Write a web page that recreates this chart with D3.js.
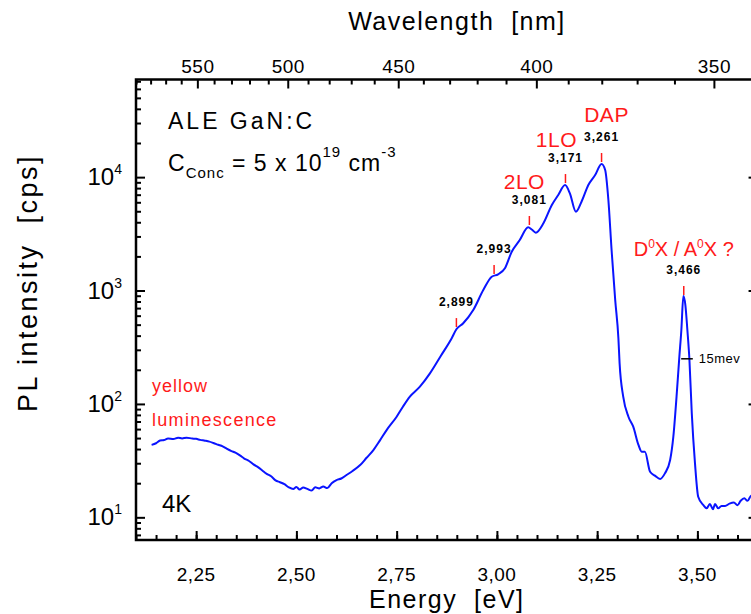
<!DOCTYPE html>
<html>

<head>
    <meta charset="utf-8">
    <style>
        body {
            margin: 0;
            background: #fff;
        }

        svg {
            display: block;
            font-family: "Liberation Sans", Arial, sans-serif;
        }

        .axis .domain {
            display: none;
        }

        .axis .tick line {
            stroke: #000;
            stroke-width: 2;
        }

        .axis .tick text {
            display: none;
        }

        .red {
            fill: #ff1a1a;
        }
    </style>
</head>

<body>
    <svg width="751" height="614"></svg>

    <script src="https://d3js.org/d3.v7.min.js"></script>

    <script>
        // PL spectrum: energy [eV] and intensity [cps]
        let energy = [
            2.139, 2.150, 2.160, 2.170, 2.180, 2.193, 2.205, 2.215, 2.226, 2.240,
            2.250, 2.260, 2.272, 2.283, 2.293, 2.305, 2.316, 2.326, 2.338, 2.348,
            2.359, 2.370, 2.382, 2.393, 2.405, 2.415, 2.426, 2.437, 2.448, 2.459,
            2.470, 2.481, 2.492, 2.500, 2.508, 2.517, 2.527, 2.538, 2.547, 2.557,
            2.567, 2.577, 2.588, 2.600, 2.612, 2.625, 2.640, 2.659, 2.675, 2.692,
            2.708, 2.725, 2.750, 2.766, 2.783, 2.808, 2.833, 2.860, 2.887, 2.899,
            2.916, 2.941, 2.966, 2.987, 3.003, 3.020, 3.037, 3.057, 3.078, 3.087,
            3.097, 3.116, 3.137, 3.153, 3.170, 3.182, 3.197, 3.211, 3.228, 3.245,
            3.261, 3.270, 3.278, 3.286, 3.295, 3.303, 3.306, 3.315, 3.328, 3.340,
            3.353, 3.361, 3.369, 3.382, 3.394, 3.407, 3.419, 3.432, 3.440, 3.448,
            3.455, 3.460, 3.465, 3.470, 3.475, 3.480, 3.486, 3.494, 3.502, 3.515,
            3.523, 3.531, 3.539, 3.544, 3.552, 3.560, 3.569, 3.580, 3.591, 3.600,
            3.608, 3.617, 3.625, 3.634, 3.650
        ]
        let intensity = [
            43.5, 45.0, 47.5, 48.0, 49.5, 49.0, 50.4, 49.6, 50.4, 49.5,
            49.2, 48.2, 47.4, 46.5, 45.2, 43.6, 42.2, 40.3, 38.4, 37.2,
            35.2, 33.0, 31.4, 29.3, 27.6, 25.9, 24.2, 23.0, 21.2, 20.4,
            19.6, 18.4, 17.8, 18.5, 17.6, 18.3, 17.8, 17.2, 18.4, 18.0,
            18.7, 18.1, 20.0, 21.3, 22.0, 23.6, 25.6, 28.9, 33.5, 39.2,
            47.5, 58.8, 77.1, 95, 116, 142, 186, 265, 378, 455,
            514, 673, 1009, 1324, 1390, 1570, 2198, 2788, 3606, 3450,
            3234, 3916, 5678, 6955, 8514, 7194, 4955, 6067, 8514, 10440,
            13060, 11560, 6284, 2275, 826, 378, 228, 116, 77.1, 63.0,
            43.5, 37.9, 37.9, 25.2, 23.3, 21.8, 24.4, 32.0, 51.4, 116,
            261, 449, 893, 745, 449, 250, 82.6, 29.9, 15.2, 12.8,
            12.0, 13.1, 11.8, 13.1, 12.0, 12.6, 12.6, 13.2, 13.5, 12.8,
            14.0, 14.7, 14.0, 15.5, 15.8
        ]

        // axis ticks
        let energyTicks = [2.25, 2.50, 2.75, 3.00, 3.25, 3.50]
        let wavelengthTicks = [550, 500, 450, 400, 350]
        let wavelengthMinor = d3.range(340, 600, 10)
        let intensityTicks = [1e1, 1e2, 1e3, 1e4]
        let intensityExp = ["1", "2", "3", "4"]

        // marked peaks: energy [eV], intensity at the foot of the red mark, label
        let peakEnergy = [2.899, 2.993, 3.081, 3.171, 3.261, 3.466]
        let peakLevel = [476, 1400, 3784, 8870, 13590, 912]
        let peakText = ["2,899", "2,993", "3,081", "3,171", "3,261", "3,466"]

        let svg = d3.select("svg")
        let hc = 1239.84

        let margin = { top: 79.5, bottom: 540, left: 136 }

        let x = d3.scaleLinear()
            .domain([2.10, 3.65])
            .range([margin.left, margin.left + 1.55 * 401])

        let y = d3.scaleLog()
            .domain([6.31, 72600])
            .range([margin.bottom, margin.top])

        let right = x(3.65)

        // minor ticks every 0.05 eV and at 2..9 per decade
        let energyMinor = d3.range(2.10, 3.651, 0.05).map(d => +d.toFixed(2))
        let logMinor = []
        for (let e = 0; e <= 4; e++) {
            for (let m = 2; m <= 9; m++) {
                let v = m * Math.pow(10, e)
                if (v > 6.31 && v < 72600) logMinor.push(v)
            }
        }

        // bottom axis
        svg.append("g")
            .attr("class", "axis")
            .attr("transform", `translate(0,${margin.bottom})`)
            .call(d3.axisBottom(x).tickValues(energyMinor).tickSize(-5))
        svg.append("g")
            .attr("class", "axis")
            .attr("transform", `translate(0,${margin.bottom})`)
            .call(d3.axisBottom(x).tickValues(energyTicks).tickSize(-9))

        // left and right axes
        svg.append("g")
            .attr("class", "axis")
            .attr("transform", `translate(${margin.left},0)`)
            .call(d3.axisLeft(y).tickValues(logMinor).tickSize(-5))
        svg.append("g")
            .attr("class", "axis")
            .attr("transform", `translate(${margin.left},0)`)
            .call(d3.axisLeft(y).tickValues(intensityTicks).tickSize(-9))
        svg.append("g")
            .attr("class", "axis")
            .attr("transform", `translate(${right},0)`)
            .call(d3.axisRight(y).tickValues(logMinor).tickSize(-5))
        svg.append("g")
            .attr("class", "axis")
            .attr("transform", `translate(${right},0)`)
            .call(d3.axisRight(y).tickValues(intensityTicks).tickSize(-9))

        // top axis in wavelength, placed through the energy scale
        svg.append("g")
            .selectAll("line")
            .data(wavelengthMinor)
            .join("line")
            .attr("x1", d => x(hc / d))
            .attr("x2", d => x(hc / d))
            .attr("y1", margin.top)
            .attr("y2", d => margin.top + (d % 50 === 0 ? 9 : 5))
            .attr("stroke", "#000")
            .attr("stroke-width", 2)

        // frame
        svg.append("rect")
            .attr("x", margin.left)
            .attr("y", margin.top)
            .attr("width", right - margin.left)
            .attr("height", margin.bottom - margin.top)
            .attr("fill", "none")
            .attr("stroke", "#000")
            .attr("stroke-width", 2.5)

        // tick labels
        svg.append("g")
            .selectAll("text")
            .data(energyTicks)
            .join("text")
            .attr("x", d => x(d))
            .attr("y", 581)
            .attr("text-anchor", "middle")
            .style("font-size", "19px")
            .style("letter-spacing", "0.5px")
            .text(d => d.toFixed(2).replace(".", ","))

        svg.append("g")
            .selectAll("text")
            .data(wavelengthTicks)
            .join("text")
            .attr("x", d => x(hc / d))
            .attr("y", 73)
            .attr("text-anchor", "middle")
            .style("font-size", "19px")
            .style("letter-spacing", "0.5px")
            .text(d => d)

        let yLab = svg.append("g")
            .selectAll("text")
            .data(intensityTicks)
            .join("text")
            .attr("x", 122)
            .attr("y", d => y(d) + 8)
            .attr("text-anchor", "end")
            .style("font-size", "24px")
        yLab.append("tspan").text("10")
        yLab.append("tspan")
            .attr("dy", -11)
            .style("font-size", "14px")
            .text((d, i) => intensityExp[i])

        // axis titles
        svg.append("text")
            .attr("x", x(2.875))
            .attr("y", 608)
            .attr("text-anchor", "middle")
            .style("font-size", "25px")
            .style("letter-spacing", "1.5px")
            .attr("xml:space", "preserve")
            .text("Energy  [eV]")

        svg.append("text")
            .attr("x", 457)
            .attr("y", 30)
            .attr("text-anchor", "middle")
            .style("font-size", "25px")
            .style("letter-spacing", "1.5px")
            .attr("xml:space", "preserve")
            .text("Wavelength  [nm]")

        svg.append("text")
            .attr("transform", "translate(37,283) rotate(-90)")
            .attr("text-anchor", "middle")
            .style("font-size", "27px")
            .style("letter-spacing", "2.5px")
            .attr("xml:space", "preserve")
            .text("PL intensity  [cps]")

        // spectrum
        let line = d3.line()
            .x((d, i) => x(energy[i]))
            .y(d => y(d))
            .curve(d3.curveMonotoneX)

        svg.append("path")
            .datum(intensity)
            .attr("fill", "none")
            .attr("stroke", "#0a14ff")
            .attr("stroke-width", 2)
            .attr("d", line)

        // peak marks and labels
        svg.append("g")
            .selectAll("line")
            .data(peakEnergy)
            .join("line")
            .attr("x1", d => x(d))
            .attr("x2", d => x(d))
            .attr("y1", (d, i) => y(peakLevel[i]))
            .attr("y2", (d, i) => y(peakLevel[i]) - 9)
            .attr("stroke", "#ff1a1a")
            .attr("stroke-width", 1.5)

        svg.append("g")
            .selectAll("text")
            .data(peakEnergy)
            .join("text")
            .attr("x", d => x(d))
            .attr("y", (d, i) => y(peakLevel[i]) - 21)
            .attr("text-anchor", "middle")
            .style("font-size", "12px")
            .style("font-weight", "bold")
            .style("letter-spacing", "1px")
            .text((d, i) => peakText[i])

        // band names above the peak numbers
        let names = [
            { e: 3.081, dx: -5, dy: -36, t: "2LO" },
            { e: 3.171, dx: -9, dy: -36, t: "1LO" },
            { e: 3.261, dx: 5, dy: -40, t: "DAP" }
        ]
        svg.append("g")
            .selectAll("text")
            .data(names)
            .join("text")
            .attr("class", "red")
            .attr("x", d => x(d.e) + d.dx)
            .attr("y", d => y(peakLevel[peakEnergy.indexOf(d.e)]) + d.dy)
            .attr("text-anchor", "middle")
            .style("font-size", "21px")
            .style("letter-spacing", "0.5px")
            .text(d => d.t)

        let dx = svg.append("text")
            .attr("class", "red")
            .attr("x", x(3.466))
            .attr("y", y(912) - 39)
            .attr("text-anchor", "middle")
            .style("font-size", "20px")
            .attr("xml:space", "preserve")
        dx.append("tspan").text("D")
        dx.append("tspan").attr("dy", -8).style("font-size", "12px").text("0")
        dx.append("tspan").attr("dy", 8).text("X / A")
        dx.append("tspan").attr("dy", -8).style("font-size", "12px").text("0")
        dx.append("tspan").attr("dy", 8).text("X ?")

        // FWHM of the exciton line
        svg.append("line")
            .attr("x1", x(3.4595))
            .attr("x2", x(3.4885))
            .attr("y1", y(250))
            .attr("y2", y(250))
            .attr("stroke", "#000")
            .attr("stroke-width", 1.5)

        svg.append("text")
            .attr("x", x(3.4885) + 6)
            .attr("y", y(250) + 4)
            .style("font-size", "13px")
            .style("letter-spacing", "0.5px")
            .text("15mev")

        // sample notes
        svg.append("text")
            .attr("x", 168)
            .attr("y", 129)
            .style("font-size", "23px")
            .style("letter-spacing", "3px")
            .text("ALE GaN:C")

        let conc = svg.append("text")
            .attr("x", 168)
            .attr("y", 171)
            .style("font-size", "23px")
            .style("letter-spacing", "1px")
            .attr("xml:space", "preserve")
        conc.append("tspan").text("C")
        conc.append("tspan").attr("dy", 7).style("font-size", "15px").text("Conc")
        conc.append("tspan").attr("dy", -7).text(" = 5 x 10")
        conc.append("tspan").attr("dy", -14).style("font-size", "15px").text("19")
        conc.append("tspan").attr("dy", 14).text(" cm")
        conc.append("tspan").attr("dy", -14).style("font-size", "15px").text("-3")

        svg.append("text")
            .attr("class", "red")
            .attr("x", 152)
            .attr("y", 392)
            .style("font-size", "18px")
            .style("letter-spacing", "1px")
            .text("yellow")

        svg.append("text")
            .attr("class", "red")
            .attr("x", 152)
            .attr("y", 426)
            .style("font-size", "18px")
            .style("letter-spacing", "1.3px")
            .text("luminescence")

        svg.append("text")
            .attr("x", 162)
            .attr("y", 512)
            .style("font-size", "24px")
            .text("4K")
    </script>
</body>

</html>
